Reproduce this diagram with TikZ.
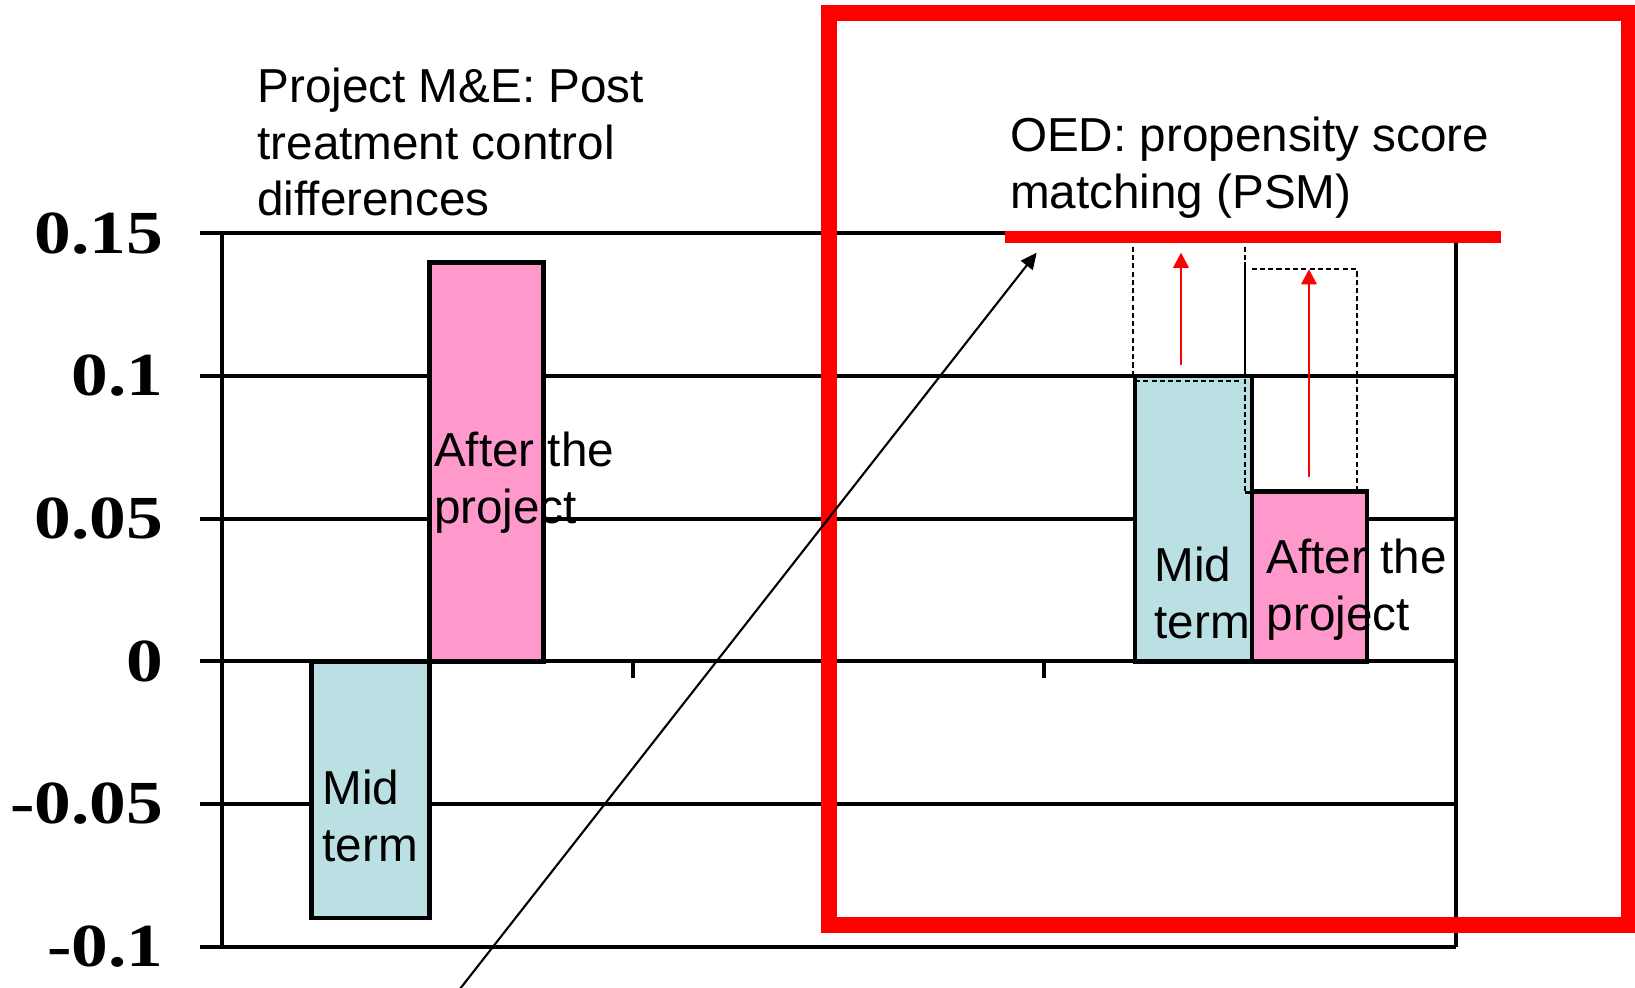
\documentclass[tikz,border=0pt]{standalone}
\usepackage{fontspec}
\setmainfont{Liberation Sans}
\newfontfamily\numfont{Liberation Serif}
\usetikzlibrary{arrows.meta}
\definecolor{midcol}{RGB}{187,224,227}
\definecolor{aftercol}{RGB}{255,153,204}
\definecolor{hired}{RGB}{255,0,0}
\tikzset{
  gridline/.style={line width=1.15pt},
  barmid/.style={draw=black, line width=1.3pt, fill=midcol},
  barafter/.style={draw=black, line width=1.3pt, fill=aftercol},
  guide/.style={line width=0.6pt, dash pattern=on 1.45pt off 0.9pt},
  thinrule/.style={line width=0.6pt},
  lift/.style={hired, line width=0.6pt, -{Triangle[length=4.3pt,width=4.4pt]}},
  pointer/.style={black, line width=0.6pt, -{Triangle[length=4.6pt,width=4.2pt]}},
  redframe/.style={hired, line width=4.55pt},
  redrule/.style={hired, line width=3.4pt},
  % multi-line texts: the base anchor sits on the last line
  txt/.style={inner sep=0pt, anchor=base west, align=left,
              font=\fontsize{13.55pt}{16.1pt}\selectfont},
  ylab/.style={inner sep=0pt, anchor=east,
               font=\numfont\bfseries\fontsize{17.4pt}{20pt}\selectfont},
}
\begin{document}
\begin{tikzpicture}[x=0.01cm, y=-0.01cm]
  \useasboundingbox (0,0) rectangle (1635,987);

  % value grid (0.15 ... -0.1) with tick stubs on the left
  \foreach \yy in {233.3, 376.0, 518.7, 661.3, 804.0, 946.7}
    \draw[gridline] (200,\yy) -- (1455.7,\yy);
  % plot frame
  \draw[gridline, line width=1.25pt] (222,233.3) -- (222,946.7);
  \draw[gridline] (1455.7,233.3) -- (1455.7,946.7);
  % category ticks on the zero line
  \draw[gridline] (633,661.3) -- (633,678);
  \draw[gridline] (1044,661.3) -- (1044,678);

  % axis labels
  \node[ylab] (l15) at (164,233.3) {\scalebox{1.2}[1]{0.15}};
  \node[ylab] (l10) at (164,376.0) {\scalebox{1.2}[1]{0.1}};
  \node[ylab] (l05) at (164,518.7) {\scalebox{1.2}[1]{0.05}};
  \node[ylab] (l00) at (164,661.3) {\scalebox{1.2}[1]{0}};
  \node[ylab] (lm05) at (164,804.0) {\scalebox{1.2}[1]{-0.05}};
  \node[ylab] (lm10) at (164,946.7) {\scalebox{1.2}[1]{-0.1}};

  % bars: project M&E
  \draw[barmid]   (311.5,661.3) rectangle (429.3,918.1);
  \draw[barafter] (429.3,661.3) rectangle (543.3,262.5);
  % bars: PSM
  \draw[barmid]   (1135,661.3) rectangle (1252,376.0);
  \draw[barafter] (1252,661.3) rectangle (1367,491.5);

  % shifted outlines above the PSM bars
  \draw[guide] (1133,246.7) -- (1133,376.0);
  \draw[guide] (1135,380.7) -- (1241,380.7);
  \draw[guide] (1245,246.7) -- (1245,492.5);
  \draw[thinrule] (1245,261.7) -- (1245,376.7);
  \draw[thinrule] (1245,492.5) -- (1252,492.5);
  \draw[guide] (1251.7,269) -- (1356.7,269) -- (1356.7,490);

  % upward shifts
  \coordinate (m0) at (1181,365);
  \coordinate (m1) at (1181,252.7);
  \coordinate (a0) at (1309,476.7);
  \coordinate (a1) at (1309,269.3);
  \draw[lift] (m0) -- (m1);
  \draw[lift] (a0) -- (a1);

  % texts
  \node[txt] (ttl) at (256.7,215.7) {Project M\&E: Post\\treatment control\\differences};
  \node[txt] (oed) at (1009.3,208.3) {OED: propensity score\\matching (PSM)};
  \node[txt] (mid1) at (321.7,861.6) {Mid\\term};
  \node[txt] (aft1) at (433.3,523.3) {After the\\project};
  \node[txt] (mid2) at (1154,638.3) {Mid\\term};
  \node[txt] (aft2) at (1266,630.6) {After the\\project};

  % highlight frame and PSM level
  \draw[redframe] (828.7,13) rectangle (1629,924.7);
  \draw[redrule] (1005,236.7) -- (1501,236.7);

  % pointer to the PSM level
  \coordinate (p0) at (457,992.7);
  \coordinate (p1) at (1036.7,252.7);
  \draw[pointer] (p0) -- (p1);
\end{tikzpicture}
\end{document}
